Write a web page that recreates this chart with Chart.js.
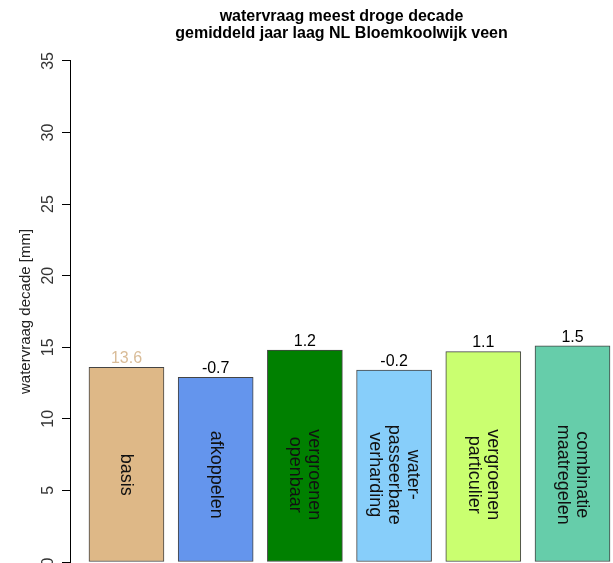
<!DOCTYPE html>
<html>
<head>
<meta charset="utf-8">
<script src="https://cdn.jsdelivr.net/npm/chart.js@4/dist/chart.umd.min.js"></script>
<style>
  body { margin: 0; background: #fff; }
  #wrap { width: 613px; height: 563px; }
</style>
</head>
<body>
<div id="wrap"><canvas id="myChart"></canvas></div>
<script>
// categorieen (regels in de balk)
const categories = [
  ['basis'],
  ['afkoppelen'],
  ['vergroenen', 'openbaar'],
  ['water-', 'passeerbare', 'verharding'],
  ['vergroenen', 'particulier'],
  ['combinatie', 'maatregelen']
];
// watervraag per maatregel [mm]
const values = [13.6, 12.9, 14.8, 13.4, 14.7, 15.1];
// tekst boven de balken (basis en verschil t.o.v. basis)
const valueLabels = ['13.6', '-0.7', '1.2', '-0.2', '1.1', '1.5'];
const barColors = ['#DEB887', '#6495ED', '#008000', '#87CEFA', '#CAFF70', '#66CDAA'];
const valueColors = ['#D9BC98', '#000', '#000', '#000', '#000', '#000'];
const yTicks = [0, 5, 10, 15, 20, 25, 30, 35];

const fontFam = '"Liberation Sans", Arial, sans-serif';

// tekst in en boven de balken
const barText = {
  id: 'barText',
  afterDatasetsDraw(chart) {
    const ctx = chart.ctx;
    const meta = chart.getDatasetMeta(0);
    const yScale = chart.scales.y;
    meta.data.forEach((bar, i) => {
      ctx.save();
      ctx.fillStyle = valueColors[i];
      ctx.font = '16px ' + fontFam;
      ctx.textAlign = 'center';
      ctx.textBaseline = 'bottom';
      ctx.fillText(valueLabels[i], bar.x, bar.y - 0.5);

      const lines = categories[i];
      const lh = 19;
      ctx.translate(bar.x, yScale.getPixelForValue(6.1));
      ctx.rotate(Math.PI / 2);
      ctx.fillStyle = '#111';
      ctx.font = '18px ' + fontFam;
      ctx.textBaseline = 'middle';
      lines.forEach((t, j) => {
        ctx.fillText(t, 0, (j - (lines.length - 1) / 2) * lh);
      });
      ctx.restore();
    });
  }
};

const data = {
  datasets: [{
    data: values.map((v, i) => ({ x: i, y: v })),
    backgroundColor: barColors,
    borderColor: '#444',
    borderWidth: 1,
    borderSkipped: false,
    barThickness: 75
  }]
};

const config = {
  type: 'bar',
  data: data,
  plugins: [barText],
  options: {
    responsive: true,
    maintainAspectRatio: false,
    animation: false,
    layout: { padding: { left: 0, right: 0, top: 0, bottom: 1 } },
    plugins: {
      legend: { display: false },
      tooltip: { enabled: false },
      title: {
        display: true,
        fullSize: false,
        text: ['watervraag meest droge decade', 'gemiddeld jaar laag NL Bloemkoolwijk veen'],
        color: '#000',
        font: { family: fontFam, size: 16, weight: 'bold', lineHeight: 1.06 },
        padding: { top: 8, bottom: 19 }
      }
    },
    scales: {
      x: {
        type: 'linear',
        display: false,
        offset: false,
        min: -0.633,
        max: 5.454
      },
      y: {
        min: 0,
        max: 35,
        afterBuildTicks(scale) {
          scale.ticks = yTicks.map(v => ({ value: v }));
        },
        afterFit(scale) {
          scale.width = 70;
          scale.paddingTop = 0;
          scale.paddingBottom = 0;
        },
        ticks: {
          autoSkip: false,
          minRotation: 90,
          maxRotation: 90,
          crossAlign: 'center',
          padding: 5,
          color: '#333',
          font: { family: fontFam, size: 16 }
        },
        grid: {
          drawOnChartArea: false,
          drawTicks: true,
          tickLength: 8,
          color: '#000'
        },
        border: { display: true, color: '#000' },
        title: {
          display: true,
          text: 'watervraag decade [mm]',
          color: '#222',
          font: { family: fontFam, size: 15 },
          padding: { top: 17, bottom: 0 }
        }
      }
    }
  }
};

const myChart = new Chart(document.getElementById('myChart'), config);
</script>
</body>
</html>
